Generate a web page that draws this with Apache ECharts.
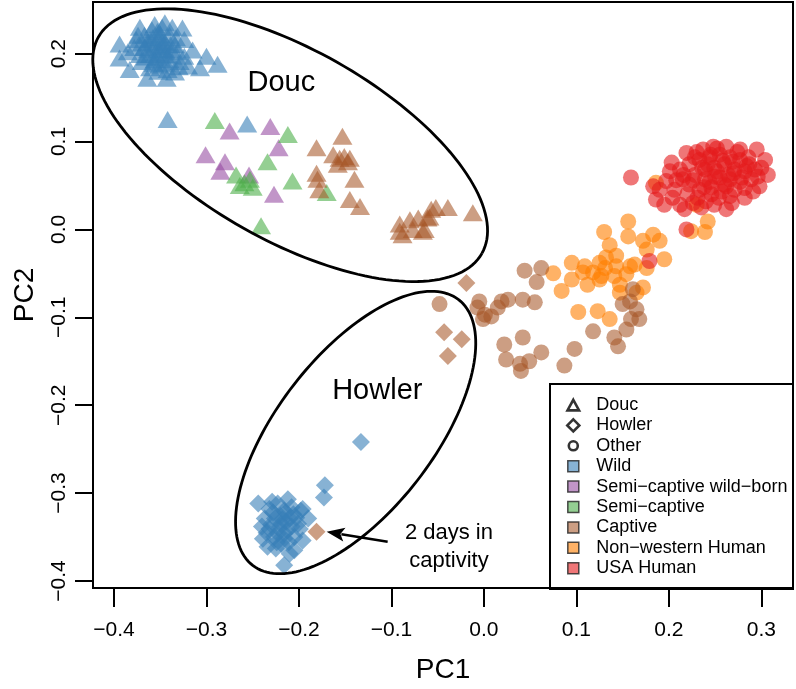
<!DOCTYPE html>
<html><head><meta charset="utf-8">
<script src="https://cdn.jsdelivr.net/npm/echarts@6/dist/echarts.min.js"></script>
<style>html,body{margin:0;padding:0;background:#fff}#c{width:796px;height:689px}</style>
</head><body><div id="c"></div>
<script>
// ---- axes ----
const xTicks = [-0.4, -0.3, -0.2, -0.1, 0.0, 0.1, 0.2, 0.3];
const yTicks = [-0.4, -0.3, -0.2, -0.1, 0.0, 0.1, 0.2];
const xRange = [-0.4227, 0.3342];
const yRange = [-0.408, 0.2587];

// ---- data: [PC1, PC2] ----
const doucWild = [[-0.372,0.230],[-0.356,0.233],[-0.345,0.235],[-0.337,0.230],[-0.326,0.229],[-0.394,0.211],[-0.376,0.216],[-0.315,0.204],[-0.300,0.197],[-0.288,0.188],[-0.394,0.195],[-0.383,0.182],[-0.364,0.172],[-0.343,0.172],[-0.320,0.186],[-0.307,0.184],[-0.367,0.221],[-0.361,0.216],[-0.356,0.210],[-0.351,0.218],[-0.345,0.213],[-0.340,0.221],[-0.334,0.210],[-0.351,0.204],[-0.361,0.199],[-0.367,0.207],[-0.372,0.199],[-0.356,0.193],[-0.345,0.199],[-0.340,0.193],[-0.331,0.202],[-0.324,0.216],[-0.329,0.191],[-0.351,0.187],[-0.361,0.184],[-0.370,0.191],[-0.342,0.182],[-0.334,0.179],[-0.378,0.207],[-0.353,0.225],[-0.359,0.227],[-0.364,0.213],[-0.349,0.208],[-0.338,0.204],[-0.355,0.201],[-0.344,0.189],[-0.374,0.221],[-0.324,0.197],[-0.385,0.202],[-0.358,0.218],[-0.348,0.214],[-0.353,0.196],[-0.346,0.205],[-0.363,0.205],[-0.339,0.210],[-0.350,0.222],[-0.357,0.189],[-0.366,0.196],[-0.341,0.198],[-0.333,0.218],[-0.348,0.230],[-0.370,0.212],[-0.352,0.180],[-0.330,0.185],[-0.342,0.125],[-0.256,0.120]];
const doucSemiWild = [[-0.275,0.112],[-0.231,0.117],[-0.222,0.093],[-0.301,0.085],[-0.280,0.077],[-0.285,0.066],[-0.254,0.062],[-0.227,0.040]];
const doucSemi = [[-0.291,0.124],[-0.212,0.108],[-0.234,0.077],[-0.268,0.062],[-0.259,0.053],[-0.264,0.050],[-0.250,0.048],[-0.253,0.057],[-0.207,0.055],[-0.170,0.042],[-0.241,0.004]];
const doucCaptive = [[-0.153,0.106],[-0.181,0.093],[-0.163,0.085],[-0.156,0.081],[-0.151,0.083],[-0.145,0.081],[-0.158,0.074],[-0.147,0.077],[-0.140,0.057],[-0.181,0.064],[-0.180,0.057],[-0.178,0.045],[-0.145,0.034],[-0.134,0.026],[-0.091,0.006],[-0.080,0.011],[-0.071,0.013],[-0.057,0.023],[-0.052,0.025],[-0.039,0.025],[-0.012,0.019],[-0.088,-0.006],[-0.077,0.000],[-0.066,-0.002],[-0.061,0.013],[-0.091,-0.002],[-0.064,0.000],[-0.059,0.014]];
const howlerWild = [[-0.133,-0.242],[-0.172,-0.291],[-0.173,-0.305],[-0.216,-0.382],[-0.244,-0.312],[-0.196,-0.318],[-0.190,-0.329],[-0.196,-0.354],[-0.205,-0.365],[-0.234,-0.361],[-0.239,-0.352],[-0.232,-0.318],[-0.223,-0.312],[-0.216,-0.320],[-0.208,-0.316],[-0.226,-0.329],[-0.219,-0.335],[-0.210,-0.329],[-0.201,-0.335],[-0.232,-0.341],[-0.223,-0.346],[-0.213,-0.343],[-0.205,-0.350],[-0.219,-0.358],[-0.237,-0.329],[-0.212,-0.307],[-0.199,-0.341],[-0.225,-0.363],[-0.210,-0.369],[-0.240,-0.338],[-0.216,-0.352],[-0.228,-0.322],[-0.220,-0.326],[-0.214,-0.333],[-0.206,-0.324],[-0.230,-0.336],[-0.222,-0.340],[-0.216,-0.346],[-0.208,-0.338],[-0.227,-0.350],[-0.218,-0.330],[-0.211,-0.356],[-0.235,-0.345],[-0.203,-0.328],[-0.224,-0.356],[-0.214,-0.322],[-0.229,-0.310],[-0.198,-0.320]];
const howlerCaptive = [[-0.019,-0.061],[-0.043,-0.117],[-0.024,-0.125],[-0.039,-0.144],[-0.181,-0.344]];
const otherCaptive = [[0.044,-0.047],[0.062,-0.044],[0.057,-0.060],[-0.048,-0.085],[-0.005,-0.082],[-0.007,-0.089],[0.001,-0.097],[-0.001,-0.102],[0.008,-0.099],[0.015,-0.089],[0.026,-0.080],[0.019,-0.082],[0.042,-0.080],[0.055,-0.083],[0.161,-0.068],[0.150,-0.085],[0.158,-0.082],[0.165,-0.091],[0.159,-0.102],[0.168,-0.102],[0.154,-0.114],[0.141,-0.123],[0.145,-0.133],[0.118,-0.116],[0.098,-0.136],[0.087,-0.155],[0.062,-0.140],[0.042,-0.123],[0.022,-0.131],[0.024,-0.148],[0.039,-0.153],[0.049,-0.150],[0.040,-0.161]];
const otherNonWestern = [[0.156,0.009],[0.130,-0.003],[0.156,-0.008],[0.136,-0.018],[0.183,-0.006],[0.190,-0.013],[0.172,-0.013],[0.176,-0.023],[0.195,-0.034],[0.095,-0.038],[0.075,-0.050],[0.109,-0.042],[0.125,-0.038],[0.132,-0.032],[0.143,-0.030],[0.131,-0.044],[0.143,-0.042],[0.158,-0.042],[0.163,-0.040],[0.176,-0.044],[0.107,-0.049],[0.118,-0.049],[0.127,-0.053],[0.141,-0.053],[0.154,-0.051],[0.095,-0.057],[0.112,-0.063],[0.125,-0.057],[0.147,-0.063],[0.172,-0.066],[0.084,-0.070],[0.147,-0.072],[0.165,-0.072],[0.102,-0.094],[0.123,-0.093],[0.136,-0.102],[0.186,0.053],[0.242,0.009],[0.239,-0.003],[0.224,-0.002],[0.230,0.028]];
const otherUSA = [[0.203,0.076],[0.219,0.087],[0.237,0.091],[0.248,0.094],[0.262,0.094],[0.277,0.091],[0.295,0.091],[0.304,0.079],[0.307,0.062],[0.298,0.049],[0.291,0.043],[0.282,0.047],[0.266,0.038],[0.262,0.023],[0.235,0.025],[0.217,0.023],[0.204,0.036],[0.186,0.034],[0.183,0.049],[0.197,0.055],[0.215,0.057],[0.222,0.074],[0.233,0.079],[0.244,0.082],[0.255,0.085],[0.266,0.082],[0.277,0.079],[0.287,0.074],[0.228,0.062],[0.239,0.068],[0.249,0.070],[0.260,0.074],[0.271,0.068],[0.282,0.066],[0.293,0.068],[0.222,0.051],[0.233,0.045],[0.244,0.054],[0.255,0.059],[0.266,0.057],[0.277,0.054],[0.246,0.040],[0.257,0.043],[0.271,0.045],[0.231,0.036],[0.249,0.028],[0.282,0.036],[0.212,0.068],[0.206,0.045],[0.239,0.057],[0.260,0.051],[0.269,0.077],[0.252,0.066],[0.242,0.074],[0.279,0.059],[0.289,0.057],[0.300,0.070],[0.228,0.082],[0.264,0.062],[0.246,0.048],[0.220,0.040],[0.201,0.066],[0.190,0.045],[0.195,0.028],[0.212,0.028],[0.236,0.070],[0.250,0.060],[0.258,0.078],[0.270,0.064],[0.245,0.085],[0.226,0.056],[0.262,0.049],[0.284,0.072],[0.274,0.088],[0.252,0.092],[0.238,0.048],[0.216,0.062],[0.230,0.088],[0.286,0.082],[0.296,0.060],[0.254,0.036],[0.240,0.032],[0.226,0.030],[0.208,0.056],[0.268,0.030],[0.219,0.000],[0.159,0.059],[0.179,-0.036]];

// ---- annotations (data units) ----
// ellipse: [centerX, centerY, axis1X, axis1Y, axis2X, axis2Y]
const ellipses = [[-0.2095,0.0958,0.2073,-0.1232,-0.0508,-0.0943],[-0.1387,-0.2311,0.1113,0.1512,0.0669,-0.0543]];
const arrows = [[-0.1041,-0.3554,-0.1701,-0.3440]];
const noteXY = [[-0.2191,0.1664],[-0.1153,-0.1837],[-0.0378,-0.3610]];
const noteText = ['Douc','Howler','2 days in\ncaptivity'];
const noteSize = [29,29,22];

const FONT = 'Liberation Sans';
const col = {wild:'rgba(55,126,184,0.75)', semiWild:'rgba(152,78,163,0.75)', semi:'rgba(77,175,74,0.75)', captive:'rgba(166,86,40,0.72)', nonwestern:'rgba(255,127,0,0.75)', usa:'rgba(228,26,28,0.75)'};
const TRI=[20,17], DIA=[18,18], CIR=16;

function pts(name, data, symbol, size, color){
  return {name, type:'scatter', data, symbol, symbolSize:size, itemStyle:{color}, emphasis:{disabled:true}, silent:true};
}
function dummy(name, color, border, bw){
  return {name, type:'scatter', data:[], itemStyle:{color, borderColor:border, borderWidth:bw}};
}
const B = 'path://M0,0M14,14';
const iconTri = B+'M7,1.8L12.8,12.4L1.2,12.4Z';
const iconDia = B+'M7,1L13,7L7,13L1,7Z';
const iconCir = B+'M2.5,7a4.5,4.5 0 1,0 9,0a4.5,4.5 0 1,0 -9,0Z';
const iconSq = B+'M1.5,1.5L12.5,1.5L12.5,12.5L1.5,12.5Z';
const fmt = v => (v < 0 ? '\u2212' + Math.abs(v).toFixed(1) : v.toFixed(1));

const legendItems = [
  {name:'Douc', icon:iconTri, itemStyle:{color:'#fff', borderColor:'#000', borderWidth:2.6}},
  {name:'Howler', icon:iconDia, itemStyle:{color:'#fff', borderColor:'#000', borderWidth:2.6}},
  {name:'Other', icon:iconCir, itemStyle:{color:'#fff', borderColor:'#000', borderWidth:2.6}},
  {name:'Wild', icon:iconSq, itemStyle:{color:col.wild, borderColor:'#222', borderWidth:1.5}},
  {name:'Semi\u2212captive wild\u2212born', icon:iconSq, itemStyle:{color:col.semiWild, borderColor:'#222', borderWidth:1.5}},
  {name:'Semi\u2212captive', icon:iconSq, itemStyle:{color:col.semi, borderColor:'#222', borderWidth:1.5}},
  {name:'Captive', icon:iconSq, itemStyle:{color:col.captive, borderColor:'#222', borderWidth:1.5}},
  {name:'Non\u2212western Human', icon:iconSq, itemStyle:{color:col.nonwestern, borderColor:'#222', borderWidth:1.5}},
  {name:'USA Human', icon:iconSq, itemStyle:{color:col.usa, borderColor:'#222', borderWidth:1.5}}
];

const chart = echarts.init(document.getElementById('c'), null, {renderer:'canvas'});
chart.setOption({
  animation:false,
  backgroundColor:'#fff',
  textStyle:{fontFamily:FONT},
  grid:{left:93, right:3, top:2, bottom:100, show:true, borderColor:'#000', borderWidth:2, backgroundColor:'transparent'},
  xAxis:{type:'value', min:xRange[0], max:xRange[1],
    name:'PC1', nameLocation:'middle', nameGap:68, nameTextStyle:{fontSize:28, color:'#000', fontFamily:FONT},
    axisLine:{show:true, onZero:false, lineStyle:{color:'#000', width:2}},
    axisTick:{show:true, length:19, customValues:xTicks, lineStyle:{color:'#000', width:2}},
    axisLabel:{customValues:xTicks, formatter:fmt, fontSize:21, color:'#000', fontFamily:FONT, margin:32},
    splitLine:{show:false}},
  yAxis:{type:'value', min:yRange[0], max:yRange[1],
    name:'PC2', nameLocation:'middle', nameGap:54, nameRotate:90, nameTextStyle:{fontSize:28, color:'#000', fontFamily:FONT},
    axisLine:{show:true, onZero:false, lineStyle:{color:'#000', width:2}},
    axisTick:{show:true, length:18, customValues:yTicks, lineStyle:{color:'#000', width:2}},
    axisLabel:{customValues:yTicks, formatter:fmt, rotate:90, fontSize:21, color:'#000', fontFamily:FONT, margin:23},
    splitLine:{show:false}},
  legend:{orient:'vertical', left:565, top:396, padding:0, itemWidth:14, itemHeight:14, itemGap:2.4,
    selectedMode:false,
    textStyle:{fontSize:18, color:'#000', fontFamily:FONT, lineHeight:18, padding:[0,0,0,11]},
    data:legendItems},
  graphic:[{type:'rect', shape:{x:550, y:384, width:243, height:205}, style:{fill:'none', stroke:'#000', lineWidth:2}, z:100}],
  series:[
    pts('Wild Douc', doucWild, 'triangle', TRI, col.wild),
    pts('Semi-captive wild-born Douc', doucSemiWild, 'triangle', TRI, col.semiWild),
    pts('Semi-captive Douc', doucSemi, 'triangle', TRI, col.semi),
    pts('Captive Douc', doucCaptive, 'triangle', TRI, col.captive),
    pts('Wild Howler', howlerWild, 'diamond', DIA, col.wild),
    pts('Captive Howler', howlerCaptive, 'diamond', DIA, col.captive),
    pts('Non-western Human Other', otherNonWestern, 'circle', CIR, col.nonwestern),
    pts('Captive Other', otherCaptive, 'circle', CIR, col.captive),
    pts('USA Human Other', otherUSA, 'circle', CIR, col.usa),
    {type:'custom', name:'ellipses', silent:true, clip:false, data:ellipses, encode:{x:0, y:1}, z:5,
      renderItem:function(params, api){
        const e = ellipses[params.dataIndex];
        const p = [];
        for (let i = 0; i <= 160; i++) {
          const t = i / 160 * 2 * Math.PI;
          p.push(api.coord([e[0] + e[2]*Math.cos(t) + e[4]*Math.sin(t), e[1] + e[3]*Math.cos(t) + e[5]*Math.sin(t)]));
        }
        return {type:'polyline', shape:{points:p}, style:{fill:null, stroke:'#000', lineWidth:2.8}};
      }},
    {type:'custom', name:'arrows', silent:true, clip:false, data:arrows, encode:{x:0, y:1}, z:5,
      renderItem:function(params, api){
        const a = arrows[params.dataIndex];
        const p0 = api.coord([a[0], a[1]]), p1 = api.coord([a[2], a[3]]);
        const dx = p1[0]-p0[0], dy = p1[1]-p0[1], L = Math.hypot(dx, dy), ux = dx/L, uy = dy/L;
        const hl = 18, hw = 7;
        const bx = p1[0]-ux*hl, by = p1[1]-uy*hl;
        return {type:'group', children:[
          {type:'line', shape:{x1:p0[0], y1:p0[1], x2:bx+ux*3, y2:by+uy*3}, style:{stroke:'#000', lineWidth:2.6}},
          {type:'polygon', shape:{points:[[p1[0],p1[1]],[bx-uy*hw, by+ux*hw],[bx+ux*4, by+uy*4],[bx+uy*hw, by-ux*hw]]}, style:{fill:'#000'}}
        ]};
      }},
    {type:'custom', name:'notes', silent:true, clip:false, data:noteXY, encode:{x:0, y:1}, z:6,
      renderItem:function(params, api){
        const i = params.dataIndex;
        const p = api.coord(noteXY[i]);
        return {type:'text', x:p[0], y:p[1], style:{text:noteText[i], fill:'#000', font:noteSize[i]+'px "'+FONT+'"', align:'center', verticalAlign:'middle', lineHeight:28}};
      }},
    dummy('Douc', '#fff', '#000', 2.6),
    dummy('Howler', '#fff', '#000', 2.6),
    dummy('Other', '#fff', '#000', 2.6),
    dummy('Wild', col.wild, '#222', 1.5),
    dummy('Semi\u2212captive wild\u2212born', col.semiWild, '#222', 1.5),
    dummy('Semi\u2212captive', col.semi, '#222', 1.5),
    dummy('Captive', col.captive, '#222', 1.5),
    dummy('Non\u2212western Human', col.nonwestern, '#222', 1.5),
    dummy('USA Human', col.usa, '#222', 1.5)
  ]
});
</script>
</body></html>
